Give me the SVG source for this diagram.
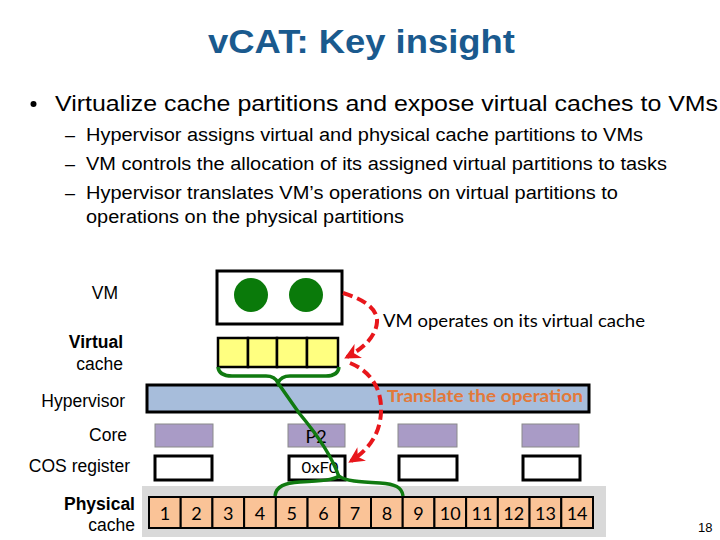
<svg xmlns="http://www.w3.org/2000/svg" width="720" height="540" viewBox="0 0 720 540">
<defs>
<style>
.t{font-family:"Liberation Sans",Arial,sans-serif;fill:#000}
.c{font-family:Lato,"Liberation Sans",sans-serif;fill:#000}
.lbl{font-size:17.5px;text-anchor:end}
.b{font-weight:bold}
.core{fill:#A99BC6;stroke:#8A8A8A;stroke-width:1}
.cos{fill:#fff;stroke:#000;stroke-width:3}
.cell{fill:#FAC397;stroke:#000;stroke-width:2}
.num{font-size:18px;text-anchor:middle}
.vc{fill:#FFFF80;stroke:#000;stroke-width:2.5}
.red{fill:none;stroke:#E8161B;stroke-width:4;stroke-dasharray:10 5}
.grn{fill:none;stroke:#107A10;stroke-width:3.5}
</style>
<marker id="ah" viewBox="0 0 10 10" refX="8" refY="5" markerWidth="4" markerHeight="4" orient="auto" markerUnits="strokeWidth">
<path d="M0,0 L10,5 L0,10 L3,5 z" fill="#E8161B"/>
</marker>
</defs>
<rect width="720" height="540" fill="#fff"/>

<g id="title">
<text class="t b" x="361.5" y="53" font-size="33" text-anchor="middle" fill="#1A5A8E" style="fill:#1A5A8E" textLength="307" lengthAdjust="spacingAndGlyphs">vCAT: Key insight</text>
</g>

<g id="bullets">
<circle cx="33.5" cy="104" r="3" fill="#000"/>
<text class="t" x="55" y="111" font-size="22" textLength="663" lengthAdjust="spacingAndGlyphs">Virtualize cache partitions and expose virtual caches to VMs</text>
<text class="t" x="65" y="141" font-size="18">–</text>
<text class="t" x="86" y="141" font-size="18" textLength="557" lengthAdjust="spacingAndGlyphs">Hypervisor assigns virtual and physical cache partitions to VMs</text>
<text class="t" x="65" y="170" font-size="18">–</text>
<text class="t" x="86" y="170" font-size="18" textLength="581" lengthAdjust="spacingAndGlyphs">VM controls the allocation of its assigned virtual partitions to tasks</text>
<text class="t" x="65" y="199" font-size="18">–</text>
<text class="t" x="86" y="199" font-size="18" textLength="532" lengthAdjust="spacingAndGlyphs">Hypervisor translates VM’s operations on virtual partitions to</text>
<text class="t" x="86" y="223" font-size="18" textLength="318" lengthAdjust="spacingAndGlyphs">operations on the physical partitions</text>
</g>

<g id="labels">
<text class="t lbl" x="118" y="299">VM</text>
<text class="t lbl b" x="123" y="348">Virtual</text>
<text class="t lbl" x="123" y="370">cache</text>
<text class="t lbl" x="125" y="407">Hypervisor</text>
<text class="t lbl" x="127" y="441">Core</text>
<text class="t lbl" x="130" y="472">COS register</text>
<text class="t lbl b" x="135" y="510">Physical</text>
<text class="t lbl" x="135" y="531">cache</text>
</g>

<g id="vm">
<rect x="217" y="271" width="125" height="53" fill="#fff" stroke="#000" stroke-width="3"/>
<circle cx="251" cy="295" r="17" fill="#0A7A0A"/>
<circle cx="306" cy="295" r="17" fill="#0A7A0A"/>
</g>

<g id="virtual-cache">
<rect class="vc" x="218" y="338" width="30" height="29"/>
<rect class="vc" x="248" y="338" width="29" height="29"/>
<rect class="vc" x="277" y="338" width="30" height="29"/>
<rect class="vc" x="307" y="338" width="31" height="29"/>
</g>

<g id="hypervisor">
<rect x="147" y="385" width="442" height="27" fill="#A7BDDB" stroke="#000" stroke-width="3"/>
<text class="c b" x="387" y="402" font-size="17" fill="#E2793A" style="fill:#E2793A" textLength="196" lengthAdjust="spacingAndGlyphs">Translate the operation</text>
</g>

<g id="cores">
<rect class="core" x="155" y="424" width="58" height="23"/>
<rect class="core" x="288" y="424" width="57" height="23"/>
<text class="c" x="316" y="443" font-size="18" text-anchor="middle">P2</text>
<rect class="core" x="398" y="424" width="59" height="23"/>
<rect class="core" x="522" y="424" width="57" height="23"/>
</g>

<g id="cos-registers">
<rect class="cos" x="155" y="456" width="57" height="24"/>
<rect class="cos" x="289" y="456" width="56" height="24"/>
<text class="c" x="320" y="473" font-size="15" text-anchor="middle" textLength="37" lengthAdjust="spacingAndGlyphs">0xF0</text>
<rect class="cos" x="399" y="456" width="58" height="24"/>
<rect class="cos" x="523" y="456" width="57" height="24"/>
</g>

<g id="physical-cache">
<rect x="142" y="486" width="464" height="51" fill="#D9D9D9"/>
<rect class="cell" x="149" y="497" width="31.71" height="31"/>
<rect class="cell" x="180.71" y="497" width="31.71" height="31"/>
<rect class="cell" x="212.43" y="497" width="31.71" height="31"/>
<rect class="cell" x="244.14" y="497" width="31.71" height="31"/>
<rect class="cell" x="275.86" y="497" width="31.71" height="31"/>
<rect class="cell" x="307.57" y="497" width="31.71" height="31"/>
<rect class="cell" x="339.29" y="497" width="31.71" height="31"/>
<rect class="cell" x="371" y="497" width="31.71" height="31"/>
<rect class="cell" x="402.71" y="497" width="31.71" height="31"/>
<rect class="cell" x="434.43" y="497" width="31.71" height="31"/>
<rect class="cell" x="466.14" y="497" width="31.71" height="31"/>
<rect class="cell" x="497.86" y="497" width="31.71" height="31"/>
<rect class="cell" x="529.57" y="497" width="31.71" height="31"/>
<rect class="cell" x="561.29" y="497" width="31.71" height="31"/>
<text class="c num" x="164.9" y="520">1</text>
<text class="c num" x="196.6" y="520">2</text>
<text class="c num" x="228.3" y="520">3</text>
<text class="c num" x="260" y="520">4</text>
<text class="c num" x="291.7" y="520">5</text>
<text class="c num" x="323.4" y="520">6</text>
<text class="c num" x="355.1" y="520">7</text>
<text class="c num" x="386.9" y="520">8</text>
<text class="c num" x="418.6" y="520">9</text>
<text class="c num" x="450.3" y="520">10</text>
<text class="c num" x="482" y="520">11</text>
<text class="c num" x="513.7" y="520">12</text>
<text class="c num" x="545.4" y="520">13</text>
<text class="c num" x="577.1" y="520">14</text>
</g>

<g id="connectors">
<path class="grn" d="M218,367 Q219,376 232,376 L266,376 Q275,376 278,383 Q281,376 290,376 L326,376 Q338,376 339,367"/>
<path class="grn" d="M278,383 L299,413 Q330,450 339,477"/>
<path class="grn" d="M275,496 C276,486 285,483 300,482 C322,481 333,480 339,476 C345,481 360,482 380,483 C395,484 402,487 403,496"/>
<path class="red" d="M343,293 C366,300 378,310 377,322 C376,336 364,348 347,357" marker-end="url(#ah)"/>
<path class="red" d="M350,363 C372,372 382,390 381,412 C380,435 368,450 351,461" marker-end="url(#ah)"/>
</g>

<g id="edge-labels">
<text class="c" x="383" y="327" font-size="18" textLength="262" lengthAdjust="spacingAndGlyphs">VM operates on its virtual cache</text>
</g>

<g id="page-number">
<text class="t" x="698" y="532" font-size="13">18</text>
</g>
</svg>
